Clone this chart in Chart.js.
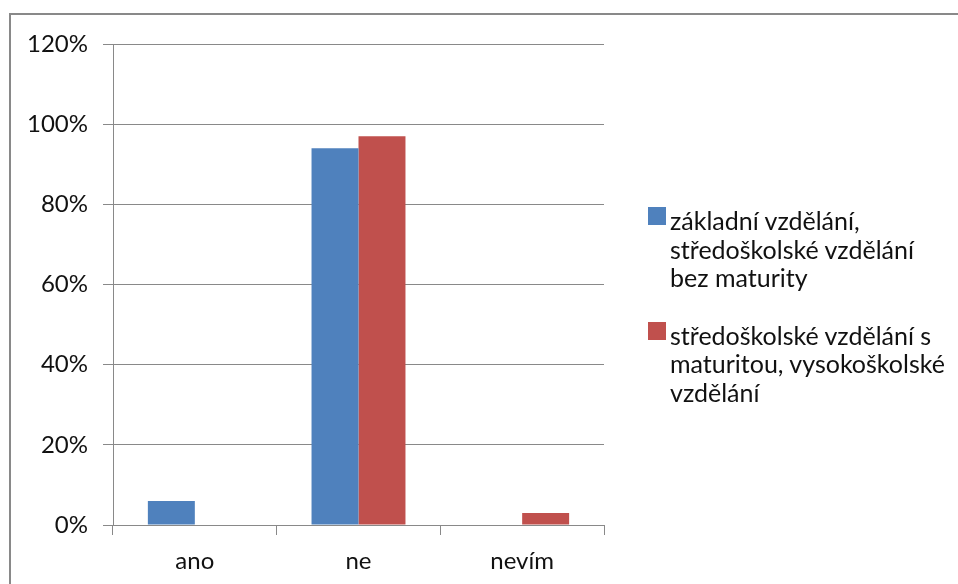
<!DOCTYPE html>
<html>
<head>
<meta charset="utf-8">
<script src="https://cdn.jsdelivr.net/npm/chart.js@4.4.1/dist/chart.umd.min.js"></script>
<style>
  html, body { margin: 0; padding: 0; background: #fff; width: 958px; height: 584px; overflow: hidden; }
  #frame { position: absolute; left: 9px; top: 13px; width: 990px; height: 620px; border: 2px solid #898989; box-sizing: border-box; }
  #chart { position: absolute; left: 0; top: 0; }
  #legend { position: absolute; left: 648px; top: 206px; font-family: Lato, "Open Sans", sans-serif; font-size: 25px; color: #111; line-height: 28.5px; }
  .item { display: flex; align-items: flex-start; margin-bottom: 29px; }
  .box { width: 18px; height: 18px; margin-top: 1px; margin-right: 4px; flex: none; }
</style>
</head>
<body>
<div id="frame"></div>
<canvas id="chart" width="958" height="584"></canvas>
<div id="legend"></div>
<script>
// Answers to the question, by education group (percent of respondents)
const categories = ['ano', 'ne', 'nevím'];
const seriesLines = [
  ['základní vzdělání,', 'středoškolské vzdělání', 'bez maturity'],
  ['středoškolské vzdělání s', 'maturitou, vysokoškolské', 'vzdělání']
];
const basicEducation = [6, 94, 0];
const higherEducation = [0, 97, 3];
const yTickLabels = ['0%', '20%', '40%', '60%', '80%', '100%', '120%'];
const seriesColors = ['#4F81BD', '#C0504D'];

const axisFont = { family: 'Lato, "Open Sans", sans-serif', size: 24 };
const lineColor = '#898989';
const textColor = '#111';

const chart = new Chart(document.getElementById('chart'), {
  type: 'bar',
  data: {
    labels: categories,
    datasets: [
      { label: seriesLines[0].join(' '), data: basicEducation, backgroundColor: seriesColors[0] },
      { label: seriesLines[1].join(' '), data: higherEducation, backgroundColor: seriesColors[1] }
    ]
  },
  options: {
    responsive: false,
    animation: false,
    layout: { padding: { left: 0, top: 44, right: 354, bottom: 0 } },
    datasets: { bar: { categoryPercentage: 0.574, barPercentage: 1.0 } },
    plugins: { legend: { display: false }, tooltip: { enabled: false } },
    scales: {
      x: {
        grid: { drawOnChartArea: false, color: lineColor, tickLength: 10 },
        border: { color: lineColor },
        ticks: { font: axisFont, color: textColor, padding: 12 },
        afterFit(scale) { scale.height = 59; }
      },
      y: {
        min: 0,
        max: 120,
        ticks: {
          stepSize: 20,
          font: axisFont,
          color: textColor,
          padding: 15,
          callback: (value, index) => yTickLabels[index]
        },
        grid: { color: lineColor, tickLength: 10 },
        border: { color: lineColor },
        afterFit(scale) { scale.width = 113; }
      }
    }
  }
});

// Legend built as HTML next to the plot, one wrapped entry per series
const legend = document.getElementById('legend');
chart.data.datasets.forEach((ds, i) => {
  const item = document.createElement('div');
  item.className = 'item';
  const box = document.createElement('div');
  box.className = 'box';
  box.style.background = ds.backgroundColor;
  const text = document.createElement('div');
  text.innerHTML = seriesLines[i].join('<br>');
  item.appendChild(box);
  item.appendChild(text);
  legend.appendChild(item);
});
</script>
</body>
</html>
